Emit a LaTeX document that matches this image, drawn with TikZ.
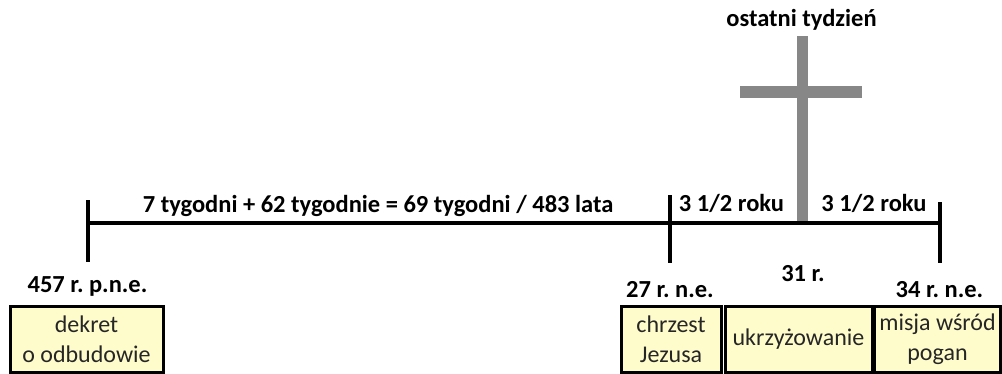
\documentclass[tikz,border=0pt]{standalone}
\usepackage{fontspec}
\setmainfont{Carlito}
\frenchspacing
\begin{document}
\begin{tikzpicture}[x=1pt,y=-1pt,
  lbl/.style={font=\fontsize{24.5}{29}\selectfont\bfseries, inner sep=0pt, anchor=base},
  evbox/.style={draw=black, line width=3pt, fill=yellow!20, font=\fontsize{24}{29.5}\selectfont, text=black!85, align=center, inner sep=0pt, minimum height=66pt},
  tl/.style={line width=4.5pt, black},
  tick/.style={line width=3.5pt, black},
  crossbar/.style={fill=black!47, draw=none}]
\useasboundingbox (0,0) rectangle (1002,373);
% cross
\fill[crossbar] (797,36) rectangle (808,222);
\fill[crossbar] (740,86) rectangle (862,98);
% coordinates
\coordinate (L) at (88,223);
\coordinate (M) at (670,223);
\coordinate (R) at (940,223);
\coordinate (Lt) at (88,200);
\coordinate (Lb) at (88,262);
\coordinate (Mt) at (670,195);
\coordinate (Mb) at (670,263);
\coordinate (Rt) at (940,202);
\coordinate (Rb) at (940,263);
\draw[tl] (L) -- (R);
\draw[tick] (Lt) -- (Lb);
\draw[tick] (Mt) -- (Mb);
\draw[tick] (Rt) -- (Rb);
% labels
\node[lbl] (top) at (801.5,26.5) {ostatni tydzień};
\node[lbl] (span) at (378,212.5) {7 tygodni + 62 tygodnie = 69 tygodni / 483 lata};
\node[lbl] (h1) at (731.5,211.5) {3 1/2 roku};
\node[lbl] (h2) at (874,211.5) {3 1/2 roku};
\node[lbl] (d1) at (87.5,292.5) {457 r. p.n.e.};
\node[lbl] (d2) at (670,297.5) {27 r. n.e.};
\node[lbl] (d3) at (803,281) {31 r.};
\node[lbl] (d4) at (939.5,297.5) {34 r. n.e.};
% boxes
\node[evbox, minimum width=153pt] (b1) at (86.5,339) {dekret\\o odbudowie};
\node[evbox, minimum width=100pt] (b2) at (671,339) {chrzest\\Jezusa};
\node[evbox, minimum width=147pt] (b3) at (798.5,339) {ukrzyżowanie};
\node[evbox, minimum width=126pt] (b4) at (937.5,339) {misja wśród\\pogan};
\end{tikzpicture}
\end{document}
